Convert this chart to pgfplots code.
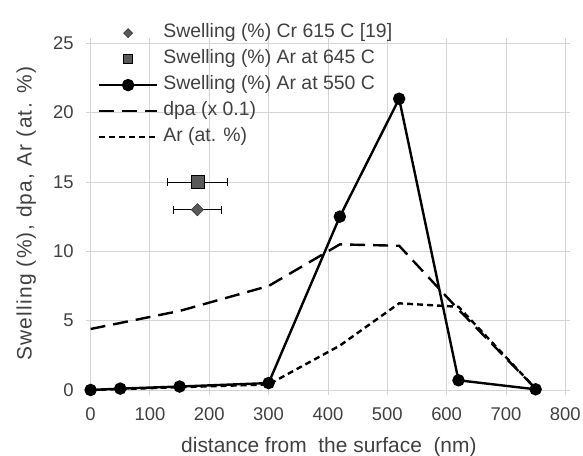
\documentclass[border=0pt]{standalone}
\usepackage{pgfplots}
\pgfplotsset{compat=1.18}
\usepackage{fontspec}
\setmainfont{Liberation Sans}
\definecolor{txt}{HTML}{404040}
\definecolor{gridc}{HTML}{D4D4D4}
\definecolor{mk}{HTML}{595959}
\begin{document}
\begin{tikzpicture}
\path[use as bounding box] (-90.6bp,-66bp) rectangle (492.4bp,390bp);
\begin{axis}[
  scale only axis, width=474.7bp, height=346.7bp,
  xmin=0, xmax=800, ymin=0, ymax=25,
  xtick={0,100,...,800}, ytick={0,5,...,25},
  grid=major, major grid style={gridc, line width=0.9bp},
  axis line style={gridc, line width=0.9bp},
  tick style={gridc, line width=0.9bp}, tick align=outside, major tick length=5bp,
  tick label style={txt, font=\fontsize{18.5}{21}\selectfont},
  /pgf/number format/assume math mode=true,
  xticklabel style={yshift=-9bp},
  yticklabel style={xshift=-8.5bp},
  xlabel={distance from\ \ the surface\ \ (nm)},
  ylabel={Swelling (\%), dpa, Ar (at. \%)},
  xlabel style={txt, font=\fontsize{21}{24}\selectfont, at={(axis description cs:0.502,-0.179)}, anchor=base},
  ylabel style={txt, font=\fontsize{21}{24}\selectfont\addfontfeatures{LetterSpace=6}, at={(axis description cs:-0.124,0.508)}, anchor=base},
  clip=false,
  legend image code/.code={\draw[mark repeat=2,mark phase=2,#1] plot coordinates {(0bp,0bp) (29bp,0bp) (58bp,0bp)};},
  legend style={at={(axis description cs:0.0150,1.0574)}, anchor=north west, draw=none, fill=none,
    inner sep=0pt, row sep=7bp, font=\fontsize{19.5}{22}\selectfont, text=txt,
    nodes={inner sep=0pt, text height=14bp, text depth=5bp},
    /tikz/every odd column/.append style={column sep=5bp}},
  legend cell align=left,
]
\addplot[only marks, mark=square*, mark size=4.3bp, mark options={rotate=45, fill=mk, draw=black!80, line width=0.6bp},
  legend image post style={mark size=3.2bp},
  error bars/.cd, x dir=both, x explicit,
  error bar style={black, line width=0.9bp},
  error mark options={rotate=90, mark size=4bp, black, line width=0.9bp}]
  coordinates {(180,13) +- (40,0)};
\addlegendentry{Swelling (\%) Cr 615 C [19]}
\addplot[only marks, mark=square*, mark size=6.5bp, mark options={fill=mk, draw=black, line width=0.8bp},
  legend image post style={mark size=4.5bp},
  error bars/.cd, x dir=both, x explicit,
  error bar style={black, line width=0.9bp},
  error mark options={rotate=90, mark size=4bp, black, line width=0.9bp}]
  coordinates {(180,15) +- (51,0)};
\addlegendentry{Swelling (\%) Ar at 645 C}
\addplot[black, line width=2.4bp, mark=*, mark size=5bp, mark options={solid}]
  coordinates {(0,0) (50,0.1) (150,0.25) (300,0.5) (420,12.5) (520,21) (620,0.7) (750,0.05)};
\addlegendentry{Swelling (\%) Ar at 550 C}
\addplot[black, line width=2.4bp, dash pattern=on 15bp off 8bp]
  coordinates {(0,4.4) (150,5.7) (300,7.5) (420,10.5) (520,10.4) (620,5.8) (750,0.1)};
\addlegendentry{dpa (x 0.1)}
\addplot[black, line width=2.4bp, dash pattern=on 6bp off 4bp]
  coordinates {(0,0) (150,0.2) (300,0.4) (420,3.2) (520,6.25) (620,6.0) (750,0.1)};
\addlegendentry{Ar (at. \%)}
\end{axis}
\end{tikzpicture}
\end{document}
